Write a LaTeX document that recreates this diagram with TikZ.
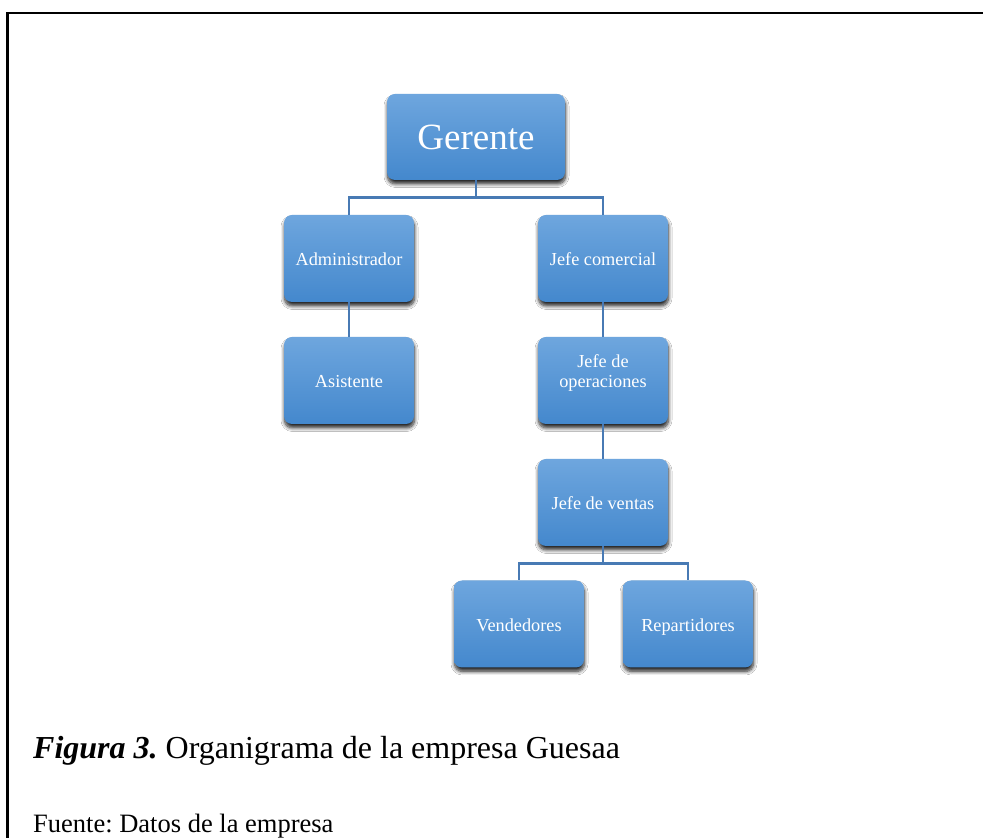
\documentclass[tikz,border=0pt]{standalone}
\usepackage{fontspec}
\setmainfont{Liberation Serif}
\usetikzlibrary{shadows.blur,calc}
\definecolor{boxtop}{RGB}{110,166,222}
\definecolor{boxbot}{RGB}{68,136,205}
\definecolor{linkblue}{RGB}{72,122,180}
\frenchspacing
\tikzset{
  orgbox/.style={rounded corners=8pt, minimum width=130pt, minimum height=87pt,
    top color=boxtop, bottom color=boxbot, draw=none, text=white, align=center,
    font=\fontsize{18.3}{20.5}\selectfont, text height=17pt, text depth=2pt,
    blur shadow={shadow xshift=0.5pt, shadow yshift=-4pt, shadow blur radius=3.5pt,
      shadow blur steps=8, shadow opacity=85}},
  bigbox/.style={orgbox, minimum width=178pt, minimum height=86pt,
    font=\fontsize{37}{40}\selectfont, text height=30pt, text depth=4pt},
  link/.style={draw=linkblue, line width=2.6pt},
  frameline/.style={draw=black, line width=2.6pt}
}
\begin{document}
\begin{tikzpicture}[x=1pt,y=1pt]
\useasboundingbox (0,0) rectangle (983,838);
\fill[white] (0,0) rectangle (983,838);
\coordinate (ftl) at (7.5,825);
\coordinate (ftr) at (990,825);
\coordinate (fbl) at (7.5,-7);
\draw[frameline] (ftr) -- (ftl) -- (fbl);

\node[bigbox] (ger) at (476,701) {Gerente};
\node[orgbox] (adm) at (349,579.5) {Administrador};
\node[orgbox] (jc) at (603,579.5) {Jefe comercial};
\node[orgbox] (asi) at (349,457.5) {Asistente};
\node[orgbox] (jo) at (603,457.5) {Jefe de\\operaciones};
\node[orgbox] (jv) at (603,335.5) {Jefe de ventas};
\node[orgbox] (ven) at (519,214) {Vendedores};
\node[orgbox] (rep) at (688,214) {Repartidores};

\draw[link] (ger.south) -- ++(0,-17.5) -| (adm.north);
\draw[link] (ger.south) -- ++(0,-17.5) -| (jc.north);
\draw[link] (adm.south) -- (asi.north);
\draw[link] (jc.south) -- (jo.north);
\draw[link] (jo.south) -- (jv.north);
\draw[link] (jv.south) -- ++(0,-17.5) -| (ven.north);
\draw[link] (jv.south) -- ++(0,-17.5) -| (rep.north);

\node[anchor=base west, inner sep=0pt, font=\fontsize{32}{36}\selectfont] (cap) at (33,79)
  {\textbf{\textit{Figura 3.}} Organigrama de la empresa Guesaa};
\node[anchor=base west, inner sep=0pt, font=\fontsize{26.5}{30}\selectfont] (src) at (33,5)
  {Fuente: Datos de la empresa};
\end{tikzpicture}
\end{document}
